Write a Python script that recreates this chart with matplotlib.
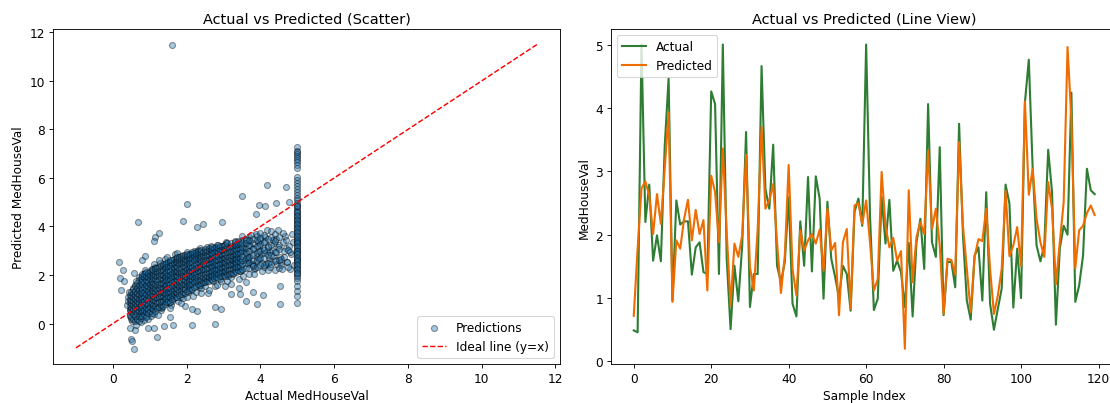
import matplotlib
matplotlib.use("Agg")
import matplotlib.pyplot as plt

DPI = 79.3
W, H = 1110, 404
plt.rcParams["font.size"] = 11

# ---- Line view ----
line_actual = [
    .49, .46, 5.0, 2.2, 2.79, 1.59, 1.99, 1.58, 3.4, 4.47,
    .96, 2.54, 2.16, 2.21, 2.21, 1.37, 1.8, 1.88, 1.41, 1.38,
    4.26, 4.06, 1.38, 5.0, 1.62, .51, 1.51, .95, 1.83, 3.62,
    .86, 1.38, 1.38, 4.66, 2.72, 2.41, 3.42, 1.51, 1.25, 1.57,
    2.59, .91, .71, 2.21, 1.51, 2.91, 1.42, 2.92, 2.57, .99,
    2.52, 1.62, 1.33, 1.01, 1.51, 1.38, .8, 2.36, 2.57, 2.14,
    5.0, 2.3, .81, .99, 2.6, 1.86, 2.55, 1.43, 1.59, 1.41,
    .86, 1.87, .71, 1.88, 2.25, 1.46, 4.06, 1.88, 1.65, 3.38,
    .73, 1.57, 1.57, 1.17, 3.75, 1.99, .96, .66, 1.67, 1.8,
    .96, 2.67, .91, .5, .83, 1.15, 2.79, 2.49, .85, 1.78,
    1.0, 4.09, 4.76, 3.04, 1.83, 1.58, 1.83, 3.34, 2.67, .58,
    1.78, 2.14, 2.0, 4.24, .94, 1.2, 1.67, 3.04, 2.7, 2.64,
]
line_predicted = [
    .72, 1.78, 2.73, 2.84, 2.62, 2.01, 2.64, 2.17, 3.04, 3.93,
    .94, 1.91, 1.78, 2.25, 2.55, 1.91, 2.39, 2.01, 2.23, 1.12,
    2.93, 2.67, 1.88, 3.36, 2.04, .88, 1.86, 1.65, 1.99, 3.26,
    1.49, 1.12, 2.09, 3.7, 2.41, 2.54, 2.8, 1.88, 1.08, 1.67,
    3.1, 1.46, 1.04, 2.07, 1.75, 1.91, 2.01, 1.86, 2.08, 1.43,
    2.41, 1.75, 1.87, .73, 1.88, 2.09, .83, 2.46, 2.5, 2.17,
    2.54, 1.88, 1.12, 1.3, 2.99, 2.14, 1.8, 1.95, 1.59, 1.74,
    .2, 2.7, 1.25, 1.96, 2.2, 2.01, 3.33, 2.09, 2.41, 1.83,
    .75, 1.62, 1.6, 1.37, 3.46, 2.14, 1.46, .78, 1.65, 1.93,
    1.9, 2.41, 1.46, .75, 1.04, 1.46, 2.69, 1.66, 1.83, 2.12,
    1.51, 4.1, 2.63, 3.04, 2.25, 1.88, 1.65, 2.83, 2.41, 1.22,
    1.88, 2.51, 4.96, 3.8, 1.47, 2.07, 2.14, 2.34, 2.46, 2.31,
]

# ---- Scatter: capped column at 5, outliers and the main cloud ----
capped_pred = [
    7.27, 7.12, 7.05, 6.98, 6.9, 6.84, 6.76, 6.66, 6.55, 6.4, 6.05, 5.92, 5.8, 5.68, 5.55, 5.42, 5.3, 5.18, 5.08, 4.98,
    4.9, 4.8, 4.72, 4.62, 4.55, 4.46, 4.38, 4.3, 4.21, 4.13, 4.05, 3.97, 3.9, 3.82, 3.74, 3.66, 3.58, 3.5, 3.42, 3.35,
    3.27, 3.2, 3.12, 3.05, 2.97, 2.9, 2.82, 2.75, 2.67, 2.6, 2.52, 2.45, 2.37, 2.3, 2.22, 2.14, 2.06, 1.98, 1.88, 1.75,
    1.55, 1.35, 1.12, .85,
    4.85, 4.6, 4.42, 4.25, 4.1, 3.95, 3.78, 3.62, 3.46, 3.3, 3.16, 3.0, 2.86, 2.7, 2.56, 2.4, 2.26, 2.1,
]
outlier_actual = [
    1.61, .69, 2.01, 1.89, 2.27, 2.44, 2.96, 3.5, 4.19, 4.69, 4.42, 3.97, 4.12, 4.78, 3.88, 1.25, 1.14, 1.11, .16, .28,
    .19, .23, .3, .57, .88, .8, .5, .53, .57, 1.19, .6, .46, .96, 1.11, 1.38, 1.64, 2.14, 2.77, 4.52, 3.92,
    3.62, 2.93, 2.77, 2.27, 2.15, 1.95, 4.53, 4.07, 3.81, 3.45, 3.2, 4.8, 1.55, 3.2, 3.42, 3.6,
]
outlier_pred = [
    11.5, 4.2, 4.91, 4.24, 3.98, 4.09, 4.2, 5.24, 5.73, 5.64, 4.95, 4.88, 4.84, 5.03, 4.53, 3.73, 3.56, 3.4, 2.55, 2.22,
    1.87, 1.4, 1.75, 2.08, 2.79, 2.6, -.62, -.7, -1.04, -.57, -.28, -.18, -.2, -.17, -.1, -.04, -.04, 0.0, .82, .82,
    .93, .62, .68, .51, .58, .71, 1.53, 1.19, 1.28, 1.23, 1.23, 2.26, .26, 1.61, 1.45, 1.7,
]
cloud_actual = [
    .38, .42, .45, .40, .47, .50, .44, .52, .48, .55,
    .50, .55, .58, .60, .53, .62, .57, .65, .60, .66,
    .62, .68, .70, .72, .66, .75, .70, .78, .74, .80,
    .72, .80, .83, .85, .78, .88, .82, .90, .86, .92,
    .85, .90, .93, .96, .98, .88, 1.0, .94, 1.02, .97,
    1.0, 1.04, 1.07, .99, 1.1, 1.05, 1.12, 1.08, 1.15, 1.03,
    1.1, 1.14, 1.17, 1.2, 1.12, 1.23, 1.18, 1.25, 1.22, 1.16,
    1.2, 1.27, 1.3, 1.24, 1.33, 1.28, 1.36, 1.31, 1.26, 1.38,
    1.3, 1.35, 1.4, 1.43, 1.37, 1.46, 1.41, 1.49, 1.44, 1.34,
    1.42, 1.47, 1.52, 1.5, 1.55, 1.45, 1.58, 1.53, 1.6, 1.48,
    1.55, 1.6, 1.63, 1.66, 1.58, 1.69, 1.62, 1.72, 1.65, 1.56,
    1.65, 1.7, 1.74, 1.77, 1.68, 1.8, 1.73, 1.83, 1.76, 1.67,
    1.78, 1.82, 1.86, 1.89, 1.8, 1.92, 1.85, 1.95, 1.88, 1.79,
    1.9, 1.94, 1.98, 2.01, 1.93, 2.04, 1.97, 2.07, 2.0, 1.91,
    2.02, 2.06, 2.1, 2.13, 2.05, 2.16, 2.09, 2.19, 2.12, 2.03,
    2.15, 2.2, 2.24, 2.27, 2.18, 2.3, 2.22, 2.33, 2.26, 2.17,
    2.3, 2.35, 2.38, 2.41, 2.32, 2.44, 2.37, 2.47, 2.4, 2.31,
    2.45, 2.5, 2.53, 2.56, 2.48, 2.59, 2.52, 2.62, 2.55, 2.46,
    2.6, 2.65, 2.68, 2.71, 2.63, 2.74, 2.67, 2.77, 2.7, 2.61,
    2.75, 2.8, 2.83, 2.86, 2.78, 2.89, 2.82, 2.92, 2.85, 2.76,
    2.9, 2.95, 2.98, 3.01, 2.93, 3.04, 2.97, 3.07, 3.0, 2.91,
    3.05, 3.1, 3.13, 3.16, 3.08, 3.19, 3.12, 3.22, 3.15, 3.06,
    3.2, 3.25, 3.28, 3.31, 3.23, 3.34, 3.27, 3.37, 3.3, 3.21,
    3.35, 3.4, 3.43, 3.46, 3.38, 3.49, 3.42, 3.52, 3.45, 3.36,
    3.5, 3.55, 3.58, 3.61, 3.53, 3.64, 3.57, 3.67, 3.6, 3.51,
    3.65, 3.7, 3.73, 3.76, 3.68, 3.79, 3.72, 3.82, 3.75, 3.66,
    3.8, 3.85, 3.88, 3.91, 3.83, 3.94, 3.87, 3.97, 3.9, 3.81,
    3.95, 4.0, 4.03, 4.06, 3.98, 4.09, 4.02, 4.12, 4.05, 3.96,
    4.1, 4.15, 4.18, 4.21, 4.13, 4.24, 4.17, 4.27, 4.2, 4.11,
    4.25, 4.3, 4.33, 4.36, 4.28, 4.39, 4.32, 4.42, 4.35, 4.26,
    4.4, 4.45, 4.48, 4.51, 4.43, 4.54, 4.47, 4.57, 4.5, 4.41,
    4.55, 4.6, 4.63, 4.66, 4.58, 4.69, 4.62, 4.72, 4.65, 4.56,
    4.7, 4.75, 4.78, 4.82, 4.85, 4.73, 4.88, 4.8, 4.9, 4.76,
]
cloud_pred = [
    .75, .95, .55, 1.1, .3, .85, 1.3, .1, .65, 1.45,
    .2, .6, 1.05, 1.6, 1.2, -.05, .4, .9, 1.35, .15,
    1.75, .5, 1.2, .7, 1.5, .05, 1.9, 1.0, .3, 1.4,
    .95, 1.85, .15, .75, 2.05, 1.2, .45, 1.6, 2.1, .3,
    .6, 1.05, 1.75, .2, 1.4, 2.2, .85, 2.0, .5, 1.15,
    1.6, .3, 2.25, 1.3, .75, 1.95, .4, 1.0, 2.35, 1.75,
    .6, 1.45, 2.1, .95, 2.45, .35, 1.75, 1.15, .7, 2.3,
    1.35, 2.5, .55, 1.95, 1.0, 1.6, 2.2, .8, 2.6, 1.25,
    .65, 1.8, 1.1, 2.4, 1.45, .9, 2.65, 1.3, 2.05, .7,
    1.55, 2.75, .85, 1.95, 1.25, 2.35, .75, 1.65, 2.1, 1.05,
    2.5, .95, 1.45, 2.2, 1.8, 2.85, 1.15, 1.7, 2.35, .65,
    1.3, 2.6, 1.9, .95, 2.15, 1.5, 2.9, 1.1, 2.4, 1.75,
    1.45, 2.05, 2.8, 1.2, 2.5, 1.7, .85, 2.25, 1.95, 2.7,
    1.05, 2.55, 1.6, 2.95, 2.15, 1.3, 2.75, 1.85, 1.1, 2.4,
    1.75, 2.2, 2.85, 1.4, 2.6, 1.15, 1.95, 3.0, 2.35, 1.55,
    2.05, 2.75, 1.3, 2.45, 1.7, 3.05, 2.25, 1.5, 2.9, 1.95,
    1.6, 2.6, 1.25, 2.95, 2.15, 1.8, 3.1, 2.4, 1.45, 2.75,
    2.2, 1.55, 3.05, 1.85, 2.5, 1.25, 2.8, 2.05, 3.15, 1.7,
    1.4, 2.35, 2.95, 1.75, 2.65, 2.1, 3.2, 1.55, 2.5, 1.9,
    2.3, 3.1, 1.6, 2.75, 1.95, 2.45, 3.25, 1.75, 2.85, 2.15,
    1.85, 2.6, 3.2, 2.05, 2.9, 1.55, 2.35, 3.3, 2.7, 2.2,
    2.5, 1.75, 3.05, 2.25, 3.35, 2.75, 1.95, 2.55, 3.15, 2.1,
    1.9, 2.85, 2.35, 3.4, 2.6, 3.1, 2.05, 2.75, 3.25, 2.45,
    2.65, 3.35, 1.85, 2.95, 2.3, 3.45, 2.55, 3.15, 2.15, 2.8,
    2.2, 3.05, 2.6, 3.5, 1.95, 2.8, 3.3, 2.45, 2.95, 3.6,
    2.7, 2.05, 3.2, 2.45, 3.55, 2.9, 3.4, 2.25, 3.65, 2.6,
    3.1, 2.3, 3.7, 2.75, 2.05, 3.35, 2.55, 3.0, 3.6, 2.4,
    2.65, 3.45, 2.15, 3.1, 3.75, 2.35, 2.85, 3.55, 2.5, 3.2,
    3.65, 2.45, 3.0, 2.2, 3.4, 2.7, 3.85, 2.55, 3.2, 2.9,
    2.35, 3.55, 2.8, 3.3, 3.8, 2.2, 3.05, 2.6, 3.45, 2.95,
    3.7, 2.45, 3.15, 2.3, 3.5, 2.75, 3.85, 2.55, 3.25, 2.95,
    2.4, 3.35, 2.75, 3.6, 2.25, 3.1, 3.75, 2.55, 3.0, 2.65,
    3.45, 2.35, 3.2, 2.85, 3.7, 2.55, 3.35, 2.95, 2.4, 3.05,
]

# dense core of the cloud: one actual value per row, predicted values read per column
core_actual = [
    .45, .50, .55, .60, .65, .70, .75, .80, .85, .90,
    .95, 1.0, 1.05, 1.1, 1.15, 1.2, 1.25, 1.3, 1.35, 1.4,
    1.45, 1.5, 1.55, 1.6, 1.65, 1.7, 1.75, 1.8, 1.85, 1.9,
    1.95, 2.0, 2.05, 2.1, 2.15, 2.2, 2.25, 2.3, 2.35, 2.4,
    2.45, 2.5, 2.55, 2.6, 2.65, 2.7, 2.75, 2.8, 2.85, 2.9,
    2.95, 3.0, 3.05, 3.1, 3.15, 3.2, 3.25, 3.3, 3.35, 3.4,
    3.45, 3.5, 3.6, 3.7, 3.8, 3.9, 4.0, 4.1, 4.2, 4.3, 4.4, 4.5,
]
core_pred = [
    [.35, .55, .72, .88, 1.02, 1.18],
    [.25, .48, .66, .81, .97, 1.12, 1.3],
    [.18, .38, .6, .78, .93, 1.08, 1.25, 1.42],
    [.12, .32, .52, .7, .86, 1.01, 1.17, 1.34, 1.55],
    [.2, .42, .61, .79, .94, 1.1, 1.27, 1.46, 1.66],
    [.1, .3, .5, .68, .85, 1.03, 1.2, 1.38, 1.58, 1.78],
    [.22, .43, .6, .77, .96, 1.13, 1.31, 1.5, 1.7, 1.86],
    [.3, .5, .7, .88, 1.06, 1.24, 1.42, 1.62, 1.8, 1.98],
    [.36, .56, .76, .95, 1.14, 1.32, 1.52, 1.7, 1.9, 2.04],
    [.28, .48, .66, .84, 1.03, 1.22, 1.41, 1.6, 1.78, 1.96, 2.12],
    [.42, .62, .8, .98, 1.16, 1.35, 1.54, 1.72, 1.9, 2.08],
    [.5, .7, .9, 1.08, 1.26, 1.45, 1.63, 1.82, 2.0, 2.16],
    [.45, .64, .84, 1.02, 1.2, 1.38, 1.57, 1.76, 1.94, 2.12, 2.24],
    [.58, .78, .96, 1.14, 1.33, 1.5, 1.69, 1.88, 2.06, 2.2],
    [.52, .72, .92, 1.1, 1.28, 1.46, 1.64, 1.83, 2.01, 2.18, 2.3],
    [.66, .86, 1.04, 1.22, 1.4, 1.59, 1.77, 1.95, 2.13, 2.28],
    [.7, .9, 1.08, 1.27, 1.45, 1.63, 1.82, 2.0, 2.17, 2.32],
    [.76, .95, 1.14, 1.32, 1.5, 1.68, 1.86, 2.04, 2.22, 2.38],
    [.72, .92, 1.12, 1.3, 1.48, 1.66, 1.84, 2.02, 2.2, 2.36, 2.46],
    [.82, 1.02, 1.2, 1.38, 1.56, 1.74, 1.92, 2.1, 2.28, 2.44],
    [.88, 1.06, 1.25, 1.43, 1.6, 1.78, 1.96, 2.14, 2.32, 2.48],
    [.94, 1.12, 1.3, 1.48, 1.66, 1.84, 2.02, 2.2, 2.38, 2.54],
    [.9, 1.1, 1.28, 1.46, 1.64, 1.82, 2.0, 2.18, 2.36, 2.52, 2.62],
    [1.0, 1.18, 1.36, 1.54, 1.72, 1.9, 2.08, 2.26, 2.44, 2.6],
    [1.04, 1.22, 1.4, 1.58, 1.76, 1.94, 2.12, 2.3, 2.48, 2.64],
    [1.1, 1.28, 1.46, 1.64, 1.82, 2.0, 2.18, 2.36, 2.54, 2.7],
    [1.08, 1.26, 1.44, 1.62, 1.8, 1.98, 2.16, 2.34, 2.52, 2.68, 2.76],
    [1.18, 1.36, 1.54, 1.72, 1.9, 2.08, 2.26, 2.44, 2.6, 2.74],
    [1.22, 1.4, 1.58, 1.76, 1.94, 2.12, 2.3, 2.48, 2.64, 2.78],
    [1.28, 1.46, 1.64, 1.82, 2.0, 2.18, 2.36, 2.54, 2.7, 2.82],
    [1.26, 1.44, 1.62, 1.8, 1.98, 2.16, 2.34, 2.52, 2.68, 2.84],
    [1.36, 1.54, 1.72, 1.9, 2.08, 2.26, 2.44, 2.62, 2.78, 2.88],
    [1.4, 1.58, 1.76, 1.94, 2.12, 2.3, 2.48, 2.66, 2.82],
    [1.46, 1.64, 1.82, 2.0, 2.18, 2.36, 2.54, 2.72, 2.88],
    [1.44, 1.62, 1.8, 1.98, 2.16, 2.34, 2.52, 2.7, 2.86, 2.96],
    [1.52, 1.7, 1.88, 2.06, 2.24, 2.42, 2.6, 2.78, 2.92],
    [1.56, 1.74, 1.92, 2.1, 2.28, 2.46, 2.64, 2.82, 2.96],
    [1.62, 1.8, 1.98, 2.16, 2.34, 2.52, 2.7, 2.86, 3.0],
    [1.6, 1.78, 1.96, 2.14, 2.32, 2.5, 2.68, 2.84, 2.98],
    [1.66, 1.84, 2.02, 2.2, 2.38, 2.56, 2.74, 2.9, 3.04],
    [1.72, 1.9, 2.08, 2.26, 2.44, 2.62, 2.8, 2.96],
    [1.7, 1.88, 2.06, 2.24, 2.42, 2.6, 2.78, 2.94, 3.08],
    [1.76, 1.94, 2.12, 2.3, 2.48, 2.66, 2.84, 3.0],
    [1.74, 1.92, 2.1, 2.28, 2.46, 2.64, 2.82, 2.98, 3.12],
    [1.82, 2.0, 2.18, 2.36, 2.54, 2.72, 2.9, 3.06],
    [1.8, 1.98, 2.16, 2.34, 2.52, 2.7, 2.88, 3.04, 3.16],
    [1.86, 2.04, 2.22, 2.4, 2.58, 2.76, 2.94, 3.1],
    [1.9, 2.08, 2.26, 2.44, 2.62, 2.8, 2.98, 3.14],
    [1.88, 2.06, 2.24, 2.42, 2.6, 2.78, 2.96, 3.12, 3.24],
    [1.96, 2.14, 2.32, 2.5, 2.68, 2.86, 3.04, 3.2],
    [1.94, 2.12, 2.3, 2.48, 2.66, 2.84, 3.02, 3.18],
    [2.0, 2.18, 2.36, 2.54, 2.72, 2.9, 3.08, 3.24],
    [1.98, 2.16, 2.34, 2.52, 2.7, 2.88, 3.06, 3.22],
    [2.06, 2.24, 2.42, 2.6, 2.78, 2.96, 3.14, 3.3],
    [2.04, 2.22, 2.4, 2.58, 2.76, 2.94, 3.12],
    [2.1, 2.28, 2.46, 2.64, 2.82, 3.0, 3.18, 3.34],
    [2.08, 2.26, 2.44, 2.62, 2.8, 2.98, 3.16],
    [2.16, 2.34, 2.52, 2.7, 2.88, 3.06, 3.24, 3.38],
    [2.14, 2.32, 2.5, 2.68, 2.86, 3.04, 3.22],
    [2.2, 2.38, 2.56, 2.74, 2.92, 3.1, 3.28, 3.42],
    [2.18, 2.36, 2.54, 2.72, 2.9, 3.08, 3.26],
    [2.26, 2.44, 2.62, 2.8, 2.98, 3.16, 3.34],
    [2.3, 2.5, 2.7, 2.9, 3.1, 3.3, 3.46],
    [2.28, 2.52, 2.76, 3.0, 3.24, 3.44],
    [2.36, 2.6, 2.84, 3.08, 3.3, 3.5],
    [2.34, 2.62, 2.9, 3.18, 3.46],
    [2.42, 2.7, 2.98, 3.26, 3.52],
    [2.4, 2.72, 3.04, 3.36],
    [2.5, 2.82, 3.14, 3.5],
    [2.46, 2.84, 3.22],
    [2.56, 2.96, 3.4],
    [2.6, 3.06, 3.56],
]

scatter_actual = (outlier_actual + cloud_actual + [5.0] * len(capped_pred)
                  + [a for a, ys in zip(core_actual, core_pred) for _ in ys])
scatter_pred = (outlier_pred + cloud_pred + capped_pred
                + [y for ys in core_pred for y in ys])

ideal_ends = [-1, 11.5]
green, orange = "#2e7d32", "#ef6c00"

fig = plt.figure(figsize=(W / DPI, H / DPI), dpi=DPI)
ax1 = fig.add_axes([53 / W, 1 - 365 / H, 507 / W, 334.7 / H])
ax2 = fig.add_axes([610.7 / W, 1 - 365 / H, 507 / W, 334.7 / H])

ax1.scatter(scatter_actual, scatter_pred, s=30, alpha=0.4, edgecolors="k", label="Predictions")
ax1.plot(ideal_ends, ideal_ends, "r--", lw=1.3, label="Ideal line (y=x)")
ax1.set_title("Actual vs Predicted (Scatter)")
ax1.set_xlabel("Actual MedHouseVal")
ax1.set_ylabel("Predicted MedHouseVal")
ax1.legend(loc="lower right")

x_index = list(range(len(line_actual)))
ax2.plot(x_index, line_actual, color=green, lw=1.9, label="Actual")
ax2.plot(x_index, line_predicted, color=orange, lw=1.9, label="Predicted")
ax2.set_title("Actual vs Predicted (Line View)")
ax2.set_xlabel("Sample Index")
ax2.set_ylabel("MedHouseVal")
ax2.legend(loc="upper left")

fig.savefig("out.png", dpi=DPI)
